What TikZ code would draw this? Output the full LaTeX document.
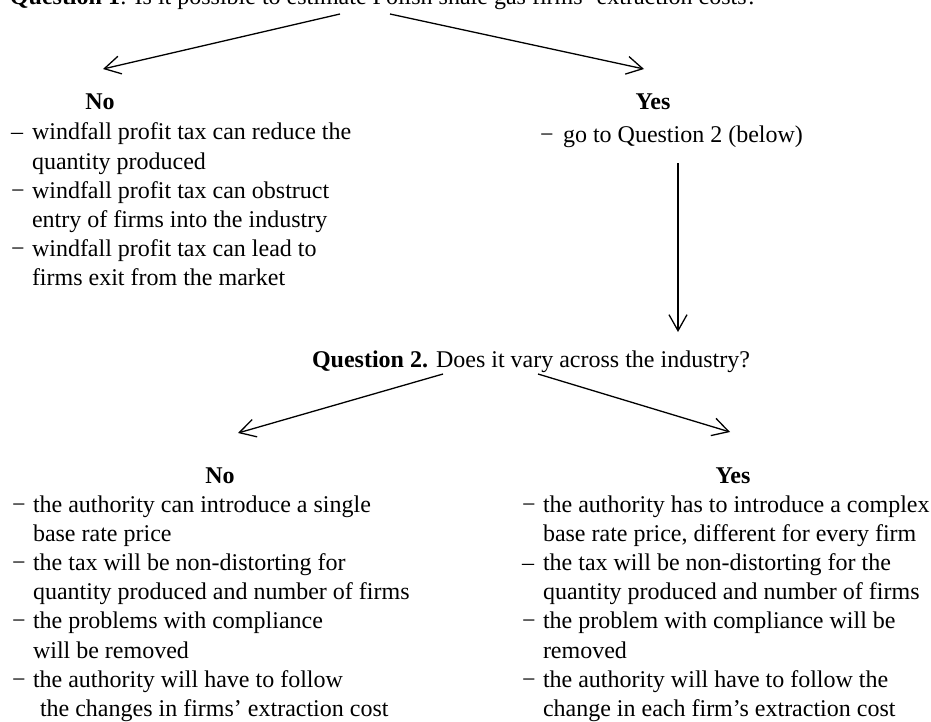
\documentclass[tikz,border=0pt]{standalone}
\usepackage{fontspec}
\setmainfont{Liberation Serif}
\usetikzlibrary{arrows.meta}
\newcommand{\dashit}[1][−]{\makebox[10.5pt][l]{#1}}
\newcommand{\contl}{\hspace*{10.5pt}}
\begin{document}
\begin{tikzpicture}[x=0.5pt,y=-0.5pt,
  font=\fontsize{12}{14.6}\selectfont,
  txt/.style={inner sep=0pt, outer sep=0pt},
  lst/.style={txt, anchor=base west},
  hd/.style={txt, anchor=base, font=\fontsize{12}{14.6}\selectfont\bfseries},
  arr/.style={line width=0.65pt, -{Straight Barb[length=8pt,width=9pt,line width=0.65pt]}}]
\useasboundingbox[fill=white] (0,0) rectangle (931,722);

% Question 1
\node[lst] (q1) at (10,5) {\textbf{Question 1}: Is it possible to estimate Polish shale gas firms’ extraction costs?};

% top branches
\coordinate (a1s) at (340,14);
\coordinate (a1t) at (103,69);
\coordinate (a2s) at (390,14);
\coordinate (a2t) at (644,69);
\draw[arr] (a1s) -- (a1t);
\draw[arr] (a2s) -- (a2t);

\node[hd] (no1) at (100,110) {No};
\node[lst] (nolist1) at (11,140) {\begin{tabular}[t]{@{}l@{}}
\dashit[–]windfall profit tax can reduce the\\
\contl quantity produced\\
\dashit windfall profit tax can obstruct\\
\contl entry of firms into the industry\\
\dashit windfall profit tax can lead to\\
\contl firms exit from the market
\end{tabular}};

\node[hd] (yes1) at (653,110) {Yes};
\node[lst] (yeslist1) at (540,142) {\makebox[11.5pt][l]{−}go to Question 2 (below)};

% vertical arrow
\coordinate (v1s) at (678,163);
\coordinate (v1t) at (678,332);
\draw[arr] (v1s) -- (v1t);

% Question 2
\node[lst] (q2) at (312,367) {\textbf{Question 2.} Does it vary across the industry?};

\coordinate (b1s) at (443,374);
\coordinate (b1t) at (238,433);
\coordinate (b2s) at (538,374);
\coordinate (b2t) at (730,432);
\draw[arr] (b1s) -- (b1t);
\draw[arr] (b2s) -- (b2t);

\node[hd] (no2) at (220,483) {No};
\node[lst] (nolist2) at (12,512) {\begin{tabular}[t]{@{}l@{}}
\dashit the authority can introduce a single\\
\contl base rate price\\
\dashit the tax will be non-distorting for\\
\contl quantity produced and number of firms\\
\dashit the problems with compliance\\
\contl will be removed\\
\dashit the authority will have to follow\\
\contl\hspace*{3.5pt}the changes in firms’ extraction cost
\end{tabular}};

\node[hd] (yes2) at (733,483) {Yes};
\node[lst] (yeslist2) at (522,512) {\begin{tabular}[t]{@{}l@{}}
\dashit the authority has to introduce a complex\\
\contl base rate price, different for every firm\\
\dashit[–]the tax will be non-distorting for the\\
\contl quantity produced and number of firms\\
\dashit the problem with compliance will be\\
\contl removed\\
\dashit the authority will have to follow the\\
\contl change in each firm’s extraction cost
\end{tabular}};
\end{tikzpicture}
\end{document}
